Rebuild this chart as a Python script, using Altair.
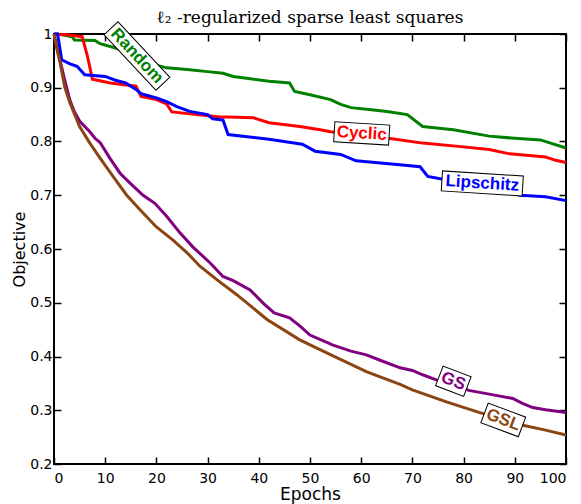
import altair as alt
import pandas as pd

# ---- data ----
random_epoch = [0, 2, 3.5, 4, 8, 9, 12, 15, 18, 20, 22, 26, 30, 33, 35, 42, 46, 47, 50, 54, 56, 58, 62, 65, 69, 72, 78, 85, 90, 95, 97, 100]
random_value = [1.0, 0.998, 0.995, 0.989, 0.988, 0.982, 0.974, 0.965, 0.952, 0.942, 0.937, 0.934, 0.930, 0.927, 0.921, 0.912, 0.909, 0.893, 0.887, 0.878, 0.869, 0.863, 0.859, 0.856, 0.850, 0.828, 0.822, 0.810, 0.806, 0.803, 0.797, 0.788]

cyclic_epoch = [0, 3, 5.5, 6.5, 7.5, 11, 16, 17, 20, 22, 23, 32, 39, 42, 48, 52, 54, 60, 66, 72, 80, 85, 89, 96, 98, 100]
cyclic_value = [1.0, 0.998, 0.995, 0.96, 0.916, 0.909, 0.903, 0.884, 0.878, 0.870, 0.855, 0.846, 0.844, 0.835, 0.828, 0.822, 0.818, 0.812, 0.805, 0.797, 0.790, 0.785, 0.777, 0.771, 0.765, 0.761]

lips_epoch = [0, 0.7, 1.5, 3, 4.5, 6, 10, 12, 14, 16, 17, 20, 22, 24, 26.5, 30, 31, 33, 34, 42, 48.5, 51, 56, 59, 67, 71.5, 73, 77, 85, 91, 96, 100]
lips_value = [1.0, 1.0, 0.952, 0.945, 0.940, 0.924, 0.921, 0.914, 0.909, 0.897, 0.889, 0.881, 0.874, 0.865, 0.856, 0.850, 0.842, 0.840, 0.813, 0.804, 0.795, 0.782, 0.776, 0.764, 0.757, 0.753, 0.735, 0.728, 0.713, 0.700, 0.697, 0.690]

gs_epoch = [0, 0.5, 1.2, 2.1, 3.1, 4, 5, 6, 7, 8, 9, 10.9, 12.9, 14.8, 17.4, 19.7, 22, 24.6, 27.1, 30.5, 33, 35, 38.3, 41, 43, 46, 48, 50, 54.5, 58, 61, 63.7, 67.6, 70, 72, 74.8, 78, 81, 85, 89.6, 91.5, 93.5, 96, 100]
gs_value = [1.0, 0.978, 0.950, 0.914, 0.877, 0.855, 0.838, 0.828, 0.818, 0.806, 0.798, 0.769, 0.741, 0.723, 0.700, 0.685, 0.661, 0.630, 0.604, 0.574, 0.549, 0.541, 0.524, 0.498, 0.481, 0.472, 0.457, 0.440, 0.421, 0.410, 0.403, 0.393, 0.379, 0.374, 0.366, 0.356, 0.348, 0.337, 0.330, 0.322, 0.313, 0.305, 0.301, 0.296]

gsl_epoch = [0, 0.5, 1.2, 2.1, 3.1, 5, 7, 9, 11.6, 14.2, 16.8, 20, 23.3, 26, 28.5, 31.8, 35.7, 41.6, 48, 54.5, 61, 63.7, 67.6, 70, 76.8, 83, 88, 91.6, 96, 100]
gsl_value = [1.0, 0.975, 0.946, 0.901, 0.872, 0.828, 0.797, 0.769, 0.734, 0.700, 0.673, 0.641, 0.616, 0.593, 0.568, 0.543, 0.515, 0.469, 0.431, 0.401, 0.372, 0.362, 0.348, 0.338, 0.315, 0.296, 0.282, 0.272, 0.263, 0.254]

series_names = ["Random", "Cyclic", "Lipschitz", "GS", "GSL"]
series_colors = ["#008000", "#ff0000", "#0000ff", "#800080", "#8b4513"]

x_ticks = [0, 10, 20, 30, 40, 50, 60, 70, 80, 90, 100]
y_ticks = [0.2, 0.3, 0.4, 0.5, 0.6, 0.7, 0.8, 0.9, 1.0]

# label annotations (data coordinates, rotation in degrees, box size)
label_epoch = [16.2, 60.1, 83.65, 78.0, 87.75]
label_value = [0.959, 0.815, 0.722, 0.354, 0.282]
label_angle = [47, 3.5, 3.6, 21, 20.5]
label_box_w = [76, 55, 81, 30, 40]
label_box_h = [19, 20, 20, 21, 21]

# ---- build tables ----
rows = []
for name, ep, val in zip(series_names,
                         [random_epoch, cyclic_epoch, lips_epoch, gs_epoch, gsl_epoch],
                         [random_value, cyclic_value, lips_value, gs_value, gsl_value]):
    for e, v in zip(ep, val):
        rows.append({"series": name, "epoch": e, "value": v})
df = pd.DataFrame(rows)


def box_path(w, h):
    r = h / w
    return f"M-1,{-r:.4f}L1,{-r:.4f}L1,{r:.4f}L-1,{r:.4f}Z"


labels = pd.DataFrame({
    "label": series_names,
    "epoch": label_epoch,
    "value": label_value,
    "angle": label_angle,
    "size": [w * w for w in label_box_w],
    "color": series_colors,
})
box_paths = [box_path(w, h) for w, h in zip(label_box_w, label_box_h)]

xscale = alt.Scale(domain=[0, 100], nice=False, zero=False)
yscale = alt.Scale(domain=[0.2, 1.0], nice=False, zero=False)
FONT = "DejaVu Sans"

lines = alt.Chart(df).mark_line(strokeWidth=3).encode(
    x=alt.X("epoch:Q", scale=xscale,
            axis=alt.Axis(orient="bottom", values=x_ticks, title="Epochs", offset=-7,
                          tickSize=7, tickWidth=1.5, tickColor="black", domain=False,
                          labelPadding=7, labelFont=FONT, labelFontSize=14, labelColor="black",
                          titleFont=FONT, titleFontSize=17, titleFontWeight="normal",
                          titleColor="black", titlePadding=1, grid=False)),
    y=alt.Y("value:Q", scale=yscale,
            axis=alt.Axis(orient="left", values=y_ticks, format="~g", title="Objective", offset=-7,
                          tickSize=7, tickWidth=1.5, tickColor="black", domain=False,
                          labelPadding=2, labelFont=FONT, labelFontSize=14, labelColor="black",
                          titleFont=FONT, titleFontSize=16, titleFontWeight="normal",
                          titleColor="black", titlePadding=2, grid=False)),
    color=alt.Color("series:N", scale=alt.Scale(domain=series_names, range=series_colors), legend=None),
)

mirror = alt.Chart(df).mark_line(opacity=0).encode(
    x=alt.X("epoch:Q", scale=xscale,
            axis=alt.Axis(orient="top", values=x_ticks, title=None, labels=False, offset=-7,
                          tickSize=7, tickWidth=1.5, tickColor="black", domain=False, grid=False)),
    y=alt.Y("value:Q", scale=yscale,
            axis=alt.Axis(orient="right", values=y_ticks, title=None, labels=False, offset=-7,
                          tickSize=7, tickWidth=1.5, tickColor="black", domain=False, grid=False)),
    detail="series:N",
)

boxes = alt.Chart(labels).mark_point(filled=True, fill="white", stroke="black",
                                     strokeWidth=1, opacity=1).encode(
    x=alt.X("epoch:Q", scale=xscale, axis=None),
    y=alt.Y("value:Q", scale=yscale, axis=None),
    shape=alt.Shape("label:N", scale=alt.Scale(domain=series_names, range=box_paths), legend=None),
    size=alt.Size("size:Q", scale=None, legend=None),
    angle=alt.Angle("angle:Q", scale=None),
)

texts = alt.Chart(labels).mark_text(font="Liberation Sans", fontWeight="bold", fontSize=17,
                                    align="center", baseline="middle").encode(
    x=alt.X("epoch:Q", scale=xscale, axis=None),
    y=alt.Y("value:Q", scale=yscale, axis=None),
    text="label:N",
    angle=alt.Angle("angle:Q", scale=None),
    color=alt.Color("color:N", scale=None, legend=None),
)

chart = alt.layer(lines, mirror, boxes, texts).resolve_axis(
    x="independent", y="independent"
).properties(
    width=512, height=430,
    title=alt.TitleParams("ℓ₂ -regularized sparse least squares", font="DejaVu Serif",
                          fontSize=17, fontWeight="normal", color="black", anchor="middle",
                          offset=9, dy=16),
    autosize=alt.AutoSizeParams(type="none"),
    padding={"left": 46, "top": 26, "right": 7, "bottom": 40},
).configure_view(stroke="black", strokeWidth=2)

chart.save("out.html", embed_options={"renderer": "svg", "actions": False})
